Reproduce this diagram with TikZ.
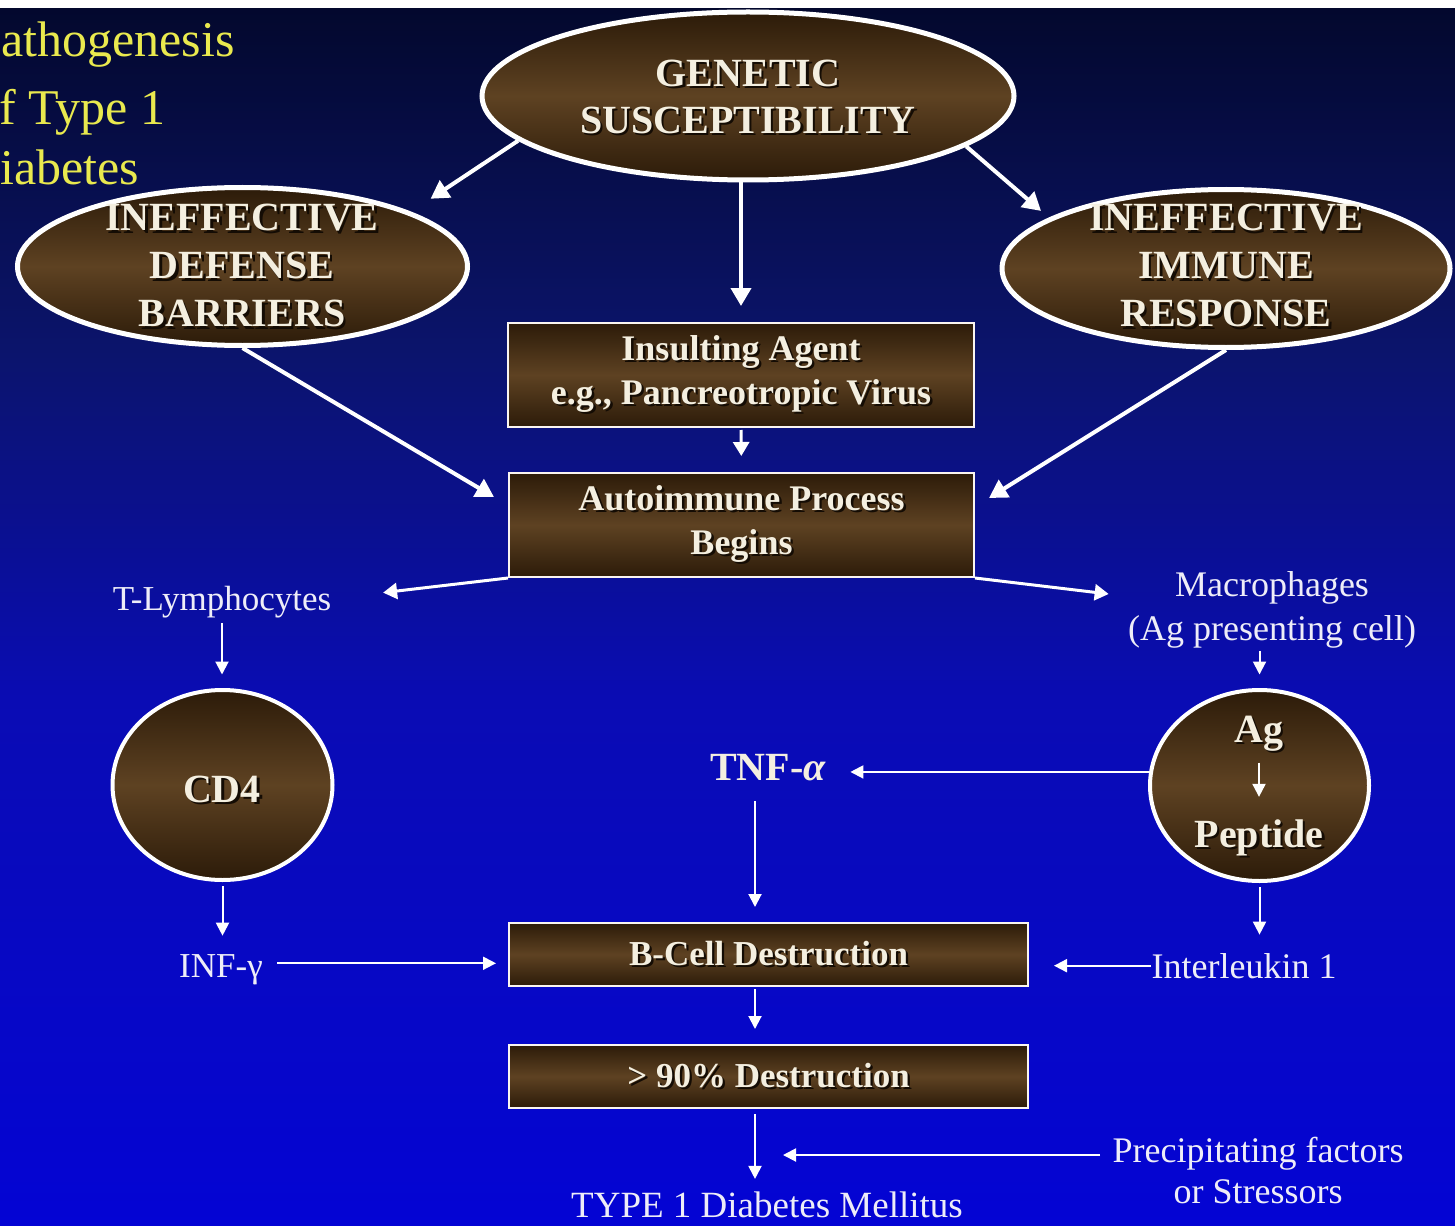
\documentclass[tikz,border=0pt]{standalone}
\usepackage{fontspec}
\setmainfont{Liberation Serif}
\usetikzlibrary{shapes.geometric,arrows.meta}
\definecolor{bgA}{HTML}{03082C}
\definecolor{bgB}{HTML}{0B146C}
\definecolor{bgC}{HTML}{0A0CB4}
\definecolor{bgD}{HTML}{0404D4}
\definecolor{brD}{HTML}{2C1B09}
\definecolor{brL}{HTML}{5E4222}
\definecolor{cream}{HTML}{F4EFE0}
\definecolor{lblc}{HTML}{EEEDF8}
\definecolor{ttlc}{HTML}{E9E94E}
\definecolor{shadowc}{HTML}{140C04}
\newcommand\fsz[2]{\fontsize{#1}{#2}\selectfont}
\newcommand\shd[1]{\makebox[0pt][l]{\kern1.2pt\raisebox{-1.2pt}{\textcolor{shadowc}{#1}}}#1}
\begin{document}
\begin{tikzpicture}[x=0.5pt,y=-0.5pt,
  ell/.style={ellipse, draw=white, line width=2.5pt, inner sep=0pt, top color=brD, bottom color=brD, middle color=brL},
  box/.style={rectangle, draw=white!92!brown, line width=1pt, inner sep=0pt, top color=brD, bottom color=brD, middle color=brL, text=cream, font=\bfseries\fsz{18pt}{22pt}, align=center},
  etxt/.style={text=cream, font=\bfseries\fsz{20pt}{23.5pt}, inner sep=0pt},
  lab/.style={text=lblc, font=\fsz{17.5pt}{21pt}, inner sep=0pt},
  ttl/.style={text=ttlc, font=\fsz{25pt}{32pt}, inner sep=0pt, anchor=base west},
  bigarr/.style={draw=white, line width=2pt, -{Triangle[length=9pt,width=10pt]}},
  midarr/.style={draw=white, line width=1.5pt, -{Triangle[length=7pt,width=8pt]}},
  tarr/.style={draw=white, line width=1pt, -{Triangle[length=6.5pt,width=6.5pt]}}]
\useasboundingbox (0,0) rectangle (1455,1225);
\clip (0,0) rectangle (1455,1225);
% background
\shade[top color=bgA, bottom color=bgB] (0,0) rectangle (1455,352);
\shade[top color=bgB, bottom color=bgC] (0,350) rectangle (1455,702);
\shade[top color=bgC, bottom color=bgD] (0,700) rectangle (1455,1225);
\fill[white] (0,0) rectangle (1455,8);
% title
\node[ttl] (t1) at (1,57) {athogenesis};
\node[ttl] (t2) at (-1,125) {f Type 1};
\node[ttl] (t3) at (0,185) {iabetes};
% ellipses
\node[ell, minimum width=266pt, minimum height=84pt] (gen) at (748,96) {};
\node[etxt, align=center] (gent) at (748,98) {\shd{GENETIC}\\\shd{SUSCEPTIBILITY}};
\node[ell, minimum width=225pt, minimum height=79pt] (idb) at (242.5,266.5) {};
\node[etxt, align=center, font=\bfseries\fsz{20pt}{24pt}] (idbt) at (242,267) {\shd{INEFFECTIVE}\\\shd{DEFENSE}\\\shd{BARRIERS}};
\node[ell, minimum width=224pt, minimum height=79pt] (iir) at (1226,268.5) {};
\node[etxt, align=center, font=\bfseries\fsz{20pt}{24pt}] (iirt) at (1226,267) {\shd{INEFFECTIVE}\\\shd{IMMUNE}\\\shd{RESPONSE}};
% boxes
\node[box, minimum width=233pt, minimum height=52pt] (ins) at (741,375) {\shd{Insulting Agent}\\\shd{e.g., Pancreotropic Virus}};
\node[box, minimum width=232.5pt, minimum height=52pt] (auto) at (741.5,525) {\shd{Autoimmune Process}\\\shd{Begins}};
\node[box, minimum width=259.5pt, minimum height=31.5pt, font=\bfseries\fsz{17.5pt}{21pt}] (bcell) at (768.5,954.5) {\shd{B-Cell Destruction}};
\node[box, minimum width=259.5pt, minimum height=31.5pt, font=\bfseries\fsz{17.5pt}{21pt}] (d90) at (768.5,1076.5) {\shd{> 90\% Destruction}};
% circles
\node[ell, line width=2pt, minimum width=110pt, minimum height=95pt] (cd4) at (222.5,785) {};
\node[etxt, anchor=base] (cd4t) at (222,802) {\shd{CD4}};
\node[ell, line width=2pt, minimum width=109.5pt, minimum height=95.5pt] (agc) at (1259.5,785.5) {};
\node[etxt, anchor=base] (agt) at (1259,742) {\shd{Ag}};
\node[etxt, anchor=base] (pep) at (1259,847) {\shd{Peptide}};
% labels
\node[lab, anchor=base] (tly) at (222,610) {T-Lymphocytes};
\node[lab, align=center, font=\fsz{18pt}{22pt}] (mac) at (1272,610) {Macrophages\\(Ag presenting cell)};
\node[lab, anchor=base] (inf) at (221,977) {INF-γ};
\node[lab, anchor=base, font=\fsz{18pt}{21pt}] (il1) at (1244,978) {Interleukin 1};
\node[etxt, anchor=base] (tnf) at (768,780) {TNF-\textit{α}};
\node[lab, align=center, font=\fsz{18pt}{20.5pt}] (prec) at (1258,1170) {Precipitating factors\\or Stressors};
\node[lab, anchor=base, font=\fsz{18.5pt}{22pt}] (typ) at (767,1217) {TYPE 1 Diabetes Mellitus};
\coordinate (spine) at (755,1155);
% upper arrows
\draw[bigarr, shorten >=11.75pt] (gen.191) -- (idb.18);
\draw[bigarr, shorten >=5.2pt] (gen.-13.3) -- (iir.164.6);
\draw[bigarr, shorten >=8pt] (ins.north |- gen.south) -- (ins.north);
\draw[midarr, shorten <=1pt, shorten >=8pt] (ins.south) -- (auto.north);
\draw[bigarr] (idb.south) -- ([shift={(-14,-28)}]auto.west);
\draw[bigarr] (iir.south) -- ([shift={(14,-27)}]auto.east);
\draw[midarr] (auto.south west) -- ([shift={(51.5,-9)}]tly.east);
\draw[midarr] (auto.south east) -- ([shift={(-19,-16)}]mac.west);
% lower arrows
\draw[tarr, shorten <=2.5pt, shorten >=6.75pt] (tly.south) -- (tly.south |- cd4.north);
\draw[tarr, shorten <=2pt, shorten >=9pt] (cd4.south) -- (cd4.south |- inf.north);
\draw[tarr, shorten <=7pt, shorten >=6pt] ([yshift=3pt]inf.east) -- ([yshift=3pt]inf.east -| bcell.west);
\draw[tarr, shorten <=1pt, shorten >=6.75pt] (mac.south -| agc.north) -- (agc.north);
\draw[tarr, shorten <=4.5pt, shorten >=11pt] (agt.south) -- (pep.north);
\draw[tarr, shorten >=12pt] (agc.173) -- (agc.173 -| tnf.east);
\draw[tarr, shorten <=10pt, shorten >=7.5pt] (tnf.south -| spine) -- (bcell.north -| spine);
\draw[tarr, shorten <=1pt, shorten >=7.5pt] (bcell.south -| spine) -- (d90.north -| spine);
\draw[tarr, shorten <=2.5pt, shorten >=6pt] (d90.south -| spine) -- (typ.north -| spine);
\draw[tarr, shorten <=2pt, shorten >=9pt] (agc.south) -- (agc.south |- il1.north);
\draw[tarr, shorten >=12.5pt] (il1.west) -- (il1.west -| bcell.east);
\draw[tarr, shorten >=14pt] ([shift={(-12,-15)}]prec.west) -- (spine);
\end{tikzpicture}
\end{document}
